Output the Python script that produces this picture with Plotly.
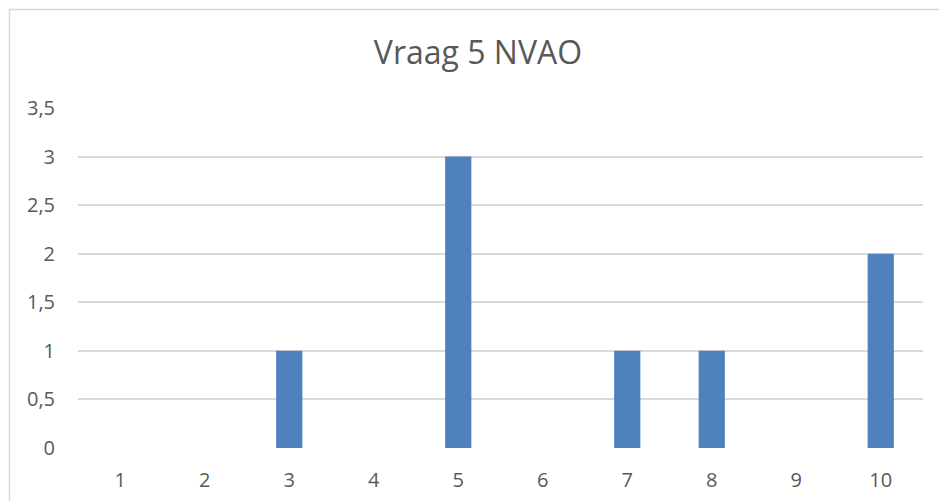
import plotly.graph_objects as go

categories = ["1", "2", "3", "4", "5", "6", "7", "8", "9", "10"]
counts = [0, 0, 1, 0, 3, 0, 1, 1, 0, 2]
y_ticks = [0, 0.5, 1, 1.5, 2, 2.5, 3, 3.5]
y_labels = ["0", "0,5", "1", "1,5", "2", "2,5", "3", "3,5"]

W, H = 939, 501
L, R, T, B = 78, 16, 108, 53
pw, ph = W - L - R, H - T - B

fig = go.Figure()
fig.add_trace(go.Bar(
    x=categories,
    y=counts,
    marker=dict(color="#4F81BD", line=dict(width=0)),
))

fig.update_layout(
    width=W, height=H,
    margin=dict(l=L, r=R, t=T, b=B, autoexpand=False),
    paper_bgcolor="white", plot_bgcolor="white",
    bargap=0.69,
    showlegend=False,
    font=dict(family="Open Sans", color="#595959"),
    title=dict(text="Vraag 5 NVAO", x=478 / W, xref="container", xanchor="center",
               y=1 - 52.5 / H, yref="container", yanchor="middle",
               font=dict(size=32, color="#595959")),
)
fig.update_xaxes(type="category", showgrid=False, showline=False, zeroline=False,
                 automargin=False, ticks="", ticklabelstandoff=18,
                 tickfont=dict(size=20, color="#595959"))
fig.update_yaxes(range=[0, 3.5], tickvals=y_ticks, ticktext=y_labels,
                 showgrid=True, gridcolor="#d9d9d9", gridwidth=1.5,
                 zeroline=False, showline=False, ticks="", automargin=False,
                 ticklabelstandoff=22, tickfont=dict(size=20, color="#595959"))

# chart-area border (only top/left visible in the crop)
fig.add_shape(type="rect", xref="paper", yref="paper",
              x0=(9.5 - L) / pw, x1=(990 - L) / pw,
              y0=(H - B - 560) / ph, y1=(H - B - 9.5) / ph,
              line=dict(color="#d9d9d9", width=1.5), fillcolor="rgba(0,0,0,0)", layer="below")

fig.write_html("out.html", config={"displayModeBar": False},
               post_script="document.body.style.margin='0';")
